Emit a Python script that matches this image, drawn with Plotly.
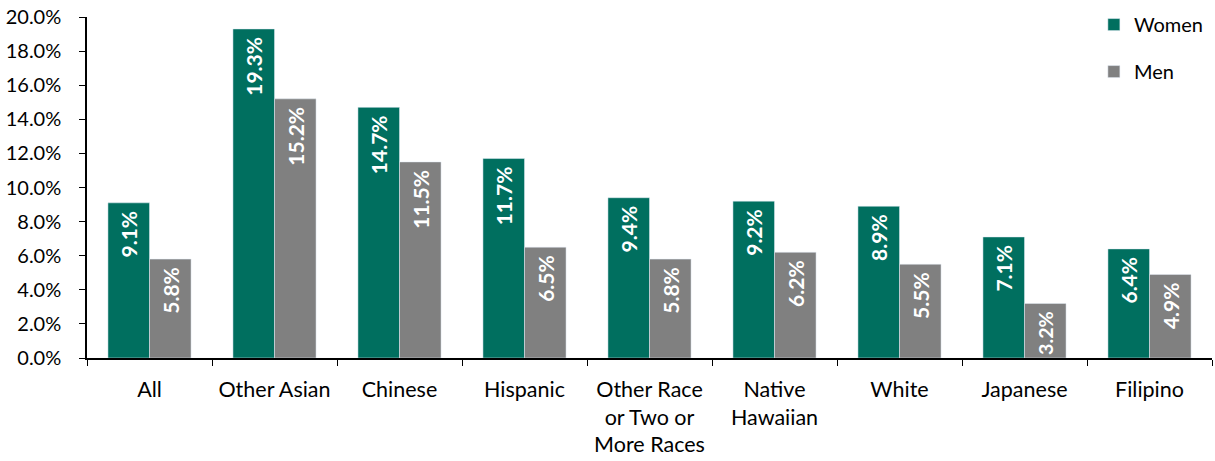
import plotly.graph_objects as go

categories = ["All", "Other Asian", "Chinese", "Hispanic", "Other Race<br>or Two or<br>More Races",
              "Native<br>Hawaiian", "White", "Japanese", "Filipino"]
women = [9.1, 19.3, 14.7, 11.7, 9.4, 9.2, 8.9, 7.1, 6.4]
men = [5.8, 15.2, 11.5, 6.5, 5.8, 6.2, 5.5, 3.2, 4.9]
y_ticks = [0, 2, 4, 6, 8, 10, 12, 14, 16, 18, 20]

FONT = "Lato"
lbl = dict(family=FONT, size=21, color="white", weight="bold")
PAD = "&nbsp;"

fig = go.Figure()
fig.add_trace(go.Bar(name="Women", x=categories, y=women, marker_color="#006F5F",
                     text=[f"{v:.1f}%{PAD}" for v in women], textposition="inside",
                     insidetextanchor="end", textangle=-90, textfont=lbl,
                     legendgroup="w", cliponaxis=False))
fig.add_trace(go.Bar(name="Men", x=categories, y=men, marker_color="#808080",
                     text=[f"{v:.1f}%{PAD}" for v in men], textposition="inside",
                     insidetextanchor="end", textangle=-90, textfont=lbl,
                     legendgroup="m", cliponaxis=False))

fig.update_layout(
    width=1215, height=461,
    margin=dict(l=87, r=3, t=17, b=103, autoexpand=False),
    paper_bgcolor="white", plot_bgcolor="white",
    barmode="group", bargap=0.335, bargroupgap=0,
    font=dict(family=FONT, size=20, color="black"),
    uniformtext=dict(mode=False),
    legend=dict(x=0.895, y=1.035, xanchor="left", yanchor="top",
                font=dict(family=FONT, size=20, color="black"),
                traceorder="grouped", tracegroupgap=18,
                bgcolor="rgba(0,0,0,0)"),
)
fig.update_xaxes(showline=True, linecolor="black", linewidth=1.5, automargin=False,
                 ticks="outside", tickson="boundaries", ticklen=6, tickcolor="black",
                 ticklabelstandoff=11,
                 tickfont=dict(family=FONT, size=21.5, color="black"))
fig.update_yaxes(range=[0, 20], tickvals=y_ticks, ticktext=[f"{v:.1f}%" for v in y_ticks],
                 showline=True, linecolor="black", linewidth=1.5, showgrid=False, automargin=False,
                 ticks="outside", ticklen=6, tickcolor="black", zeroline=False,
                 ticklabelstandoff=14,
                 tickfont=dict(family=FONT, size=20, color="black"))

fig.write_html("out.html", config={"displayModeBar": False},
               post_script="document.body.style.margin='0';document.body.style.overflow='hidden';")
